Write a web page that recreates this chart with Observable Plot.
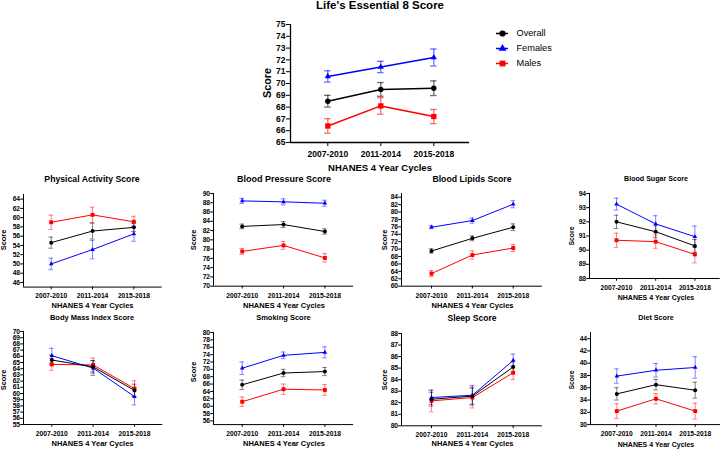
<!DOCTYPE html>
<html><head><meta charset="utf-8">
<script src="https://cdn.jsdelivr.net/npm/d3@7"></script>
<script src="https://cdn.jsdelivr.net/npm/@observablehq/plot@0.6"></script>
<style>
html,body{margin:0;padding:0;background:#fff;}
#chart{position:relative;width:722px;height:449px;overflow:hidden;font-family:"Liberation Sans",Arial,sans-serif;background:#fff;}
.lbl{position:absolute;white-space:nowrap;font-weight:bold;color:#000;transform:translate(-50%,-50%);line-height:1;}
.rot{transform:translate(-50%,-50%) rotate(-90deg);}
#chart svg{position:absolute;overflow:visible;}
</style></head><body><div id="chart"></div>
<script>
// ---- categories / labels ----
const cycles = ["2007-2010", "2011-2014", "2015-2018"];
const groups = ["Overall", "Females", "Males"];
const colors = ["#000000", "#0000ff", "#ff0000"];
const symbols = ["circle", "triangle", "square"];
const xAxisTitle = "NHANES 4 Year Cycles";
const yAxisTitle = "Score";

// ---- data: rows = Overall, Females, Males; cols = cycles ----
const le8Mean = [[68.5, 69.5, 69.6], [70.6, 71.4, 72.2], [66.4, 68.1, 67.2]];
const le8Err  = [[0.5, 0.58, 0.62], [0.48, 0.48, 0.72], [0.62, 0.7, 0.6]];

const paMean = [[54.6, 57.1, 57.9], [50.0, 53.1, 56.5], [59.0, 60.6, 59.1]];
const paErr  = [[1.2, 1.7, 0.9], [1.25, 2.0, 1.6], [1.55, 1.65, 1.2]];

const bpMean = [[82.9, 83.3, 81.8], [88.4, 88.2, 87.9], [77.5, 78.8, 76.1]];
const bpErr  = [[0.5, 0.65, 0.58], [0.55, 0.65, 0.65], [0.65, 0.85, 0.9]];

const lipMean = [[69.5, 72.9, 75.9], [75.9, 77.7, 82.1], [63.4, 68.4, 70.3]];
const lipErr  = [[0.6, 0.65, 0.9], [0.4, 0.7, 0.95], [0.8, 1.1, 0.95]];

const sugMean = [[92.0, 91.3, 90.3], [93.25, 91.85, 90.95], [90.7, 90.6, 89.7]];
const sugErr  = [[0.47, 0.42, 0.45], [0.42, 0.58, 0.75], [0.5, 0.47, 0.6]];

const bmiMean = [[65.4, 64.3, 60.5], [66.1, 64.1, 59.5], [64.7, 64.6, 60.8]];
const bmiErr  = [[0.8, 1.0, 1.0], [1.2, 1.2, 1.35], [0.95, 1.1, 1.25]];

const smkMean = [[65.8, 69.0, 69.4], [70.3, 73.8, 74.6], [61.2, 64.6, 64.4]];
const smkErr  = [[1.3, 1.0, 1.1], [1.7, 0.9, 1.5], [1.3, 1.4, 1.45]];

const slpMean = [[82.3, 82.57, 85.1], [82.45, 82.65, 85.66], [82.16, 82.45, 84.6]];
const slpErr  = [[0.6, 0.7, 0.45], [0.6, 0.85, 0.55], [0.95, 0.9, 0.6]];

const dietMean = [[35.0, 36.5, 35.6], [37.9, 38.85, 39.3], [32.2, 34.2, 32.2]];
const dietErr  = [[1.0, 0.85, 1.3], [1.17, 1.1, 1.75], [1.2, 0.85, 1.3]];

// ---- layout ----
const big = {lw: 1.5, aw: 1.3, ts: 4, cap: 3.3, r: [2.7, 2.3, 3.0], fs: 8.5, xtp: 4.6, ytp: 1};
const small = {lw: 1.0, aw: 1.0, ts: 2.8, cap: 2.3, r: [2.0, 1.7, 2.2], fs: 6.7, xtp: 3.8, ytp: 0.6};

const panels = [
  {title: "Life's Essential 8 Score", mean: le8Mean, err: le8Err, st: big,
   left: 290, right: 469, top: 24.3, bottom: 142.3, x0: 327.3, x2: 433.3, ydom: [65, 75], ystep: 1,
   t: [380, 5.5, 11.5], s: [267, 83, 10.8], n: [380, 168, 9.5]},
  {title: "Physical Activity Score", mean: paMean, err: paErr, st: small,
   left: 23.3, right: 162, top: 193.7, bottom: 286.3, x0: 51, x2: 133.7, ydom: [45, 65], ystep: 2, yfirst: 46,
   t: [92, 179, 8.7], s: [4, 240, 7.4], n: [92.5, 306, 7.5]},
  {title: "Blood Pressure Score", mean: bpMean, err: bpErr, st: small,
   left: 213.3, right: 353.4, top: 193.3, bottom: 286, x0: 242, x2: 324.7, ydom: [70, 90], ystep: 2,
   t: [284, 179, 9.0], s: [194, 240, 7.4], n: [284, 306, 7.5]},
  {title: "Blood Lipids Score", mean: lipMean, err: lipErr, st: small,
   left: 401, right: 542, top: 193.3, bottom: 286, x0: 431, x2: 512.7, ydom: [60, 85], ystep: 2, ylast: 84,
   t: [472, 179, 8.7], s: [385, 240, 7.4], n: [472.5, 306, 7.5]},
  {title: "Blood Sugar Score", mean: sugMean, err: sugErr, st: small,
   left: 589.3, right: 720, top: 192.7, bottom: 277.7, x0: 616.3, x2: 694.7, ydom: [88, 94], ystep: 1,
   t: [656, 180, 7.1], s: [572, 235.5, 6.8], n: [656, 297, 7.0]},
  {title: "Body Mass Index Score", mean: bmiMean, err: bmiErr, st: small,
   left: 22.7, right: 162, top: 331, bottom: 424, x0: 51, x2: 133.7, ydom: [55, 70], ystep: 1,
   t: [92, 317.7, 7.5], s: [4, 380, 7.4], n: [92.5, 444.3, 7.5]},
  {title: "Smoking Score", mean: smkMean, err: smkErr, st: small,
   left: 213.3, right: 353.4, top: 332.3, bottom: 424.4, x0: 242, x2: 324.7, ydom: [55, 80], ystep: 2, yfirst: 56,
   t: [283.5, 318, 7.5], s: [194, 372, 7.4], n: [284, 444.3, 7.5]},
  {title: "Sleep Score", mean: slpMean, err: slpErr, st: small,
   left: 401, right: 542, top: 332.7, bottom: 425, x0: 431, x2: 512.7, ydom: [80, 88], ystep: 1,
   t: [472, 318, 8.6], s: [385, 380, 7.4], n: [472.5, 444.3, 7.5]},
  {title: "Diet Score", mean: dietMean, err: dietErr, st: small,
   left: 590, right: 720, top: 332.2, bottom: 424.3, x0: 616.3, x2: 694.7, ydom: [30, 45], ystep: 2, ylast: 44,
   t: [656, 317.7, 7.2], s: [572, 380, 6.8], n: [656, 444.3, 7.0]}
];

const chart = document.getElementById("chart");
const FONT = "Liberation Sans, Arial, sans-serif";

function addLabel(text, pos, rotate) {
  const d = document.createElement("div");
  d.className = "lbl" + (rotate ? " rot" : "");
  d.textContent = text;
  d.style.left = pos[0] + "px";
  d.style.top = pos[1] + "px";
  d.style.fontSize = pos[2] + "px";
  chart.appendChild(d);
}

function build(p) {
  const st = p.st;
  const rows = [];
  groups.forEach((g, gi) => cycles.forEach((c, ci) =>
    rows.push({g, x: ci, y: p.mean[gi][ci], e: p.err[gi][ci]})));
  const order = ["Males", "Females", "Overall"];
  rows.sort((a, b) => order.indexOf(a.g) - order.indexOf(b.g));
  const step = (p.x2 - p.x0) / 2;
  const xdom = [(p.left - p.x0) / step, 2 + (p.right - p.x2) / step];
  const capd = st.cap / step;
  const ml = 30, mr = 4, mt = 4, mb = 20;
  const W = p.right - p.left, H = p.bottom - p.top;
  const yfirst = p.yfirst ?? p.ydom[0];
  const ylast = p.ylast ?? p.ydom[1];
  const yticks = d3.range(yfirst, ylast + 1e-9, p.ystep);
  const errStyle = {stroke: "g", strokeWidth: st.lw * 0.9, strokeOpacity: 0.55};
  const svg = Plot.plot({
    width: W + ml + mr, height: H + mt + mb,
    marginLeft: ml, marginRight: mr, marginTop: mt, marginBottom: mb,
    style: {fontFamily: FONT, fontSize: st.fs + "px", fontWeight: "bold", color: "#000", background: "transparent", overflow: "visible"},
    x: {domain: xdom, ticks: [0, 1, 2], tickFormat: i => cycles[i], tickSize: st.ts, tickPadding: st.xtp, label: null},
    y: {domain: p.ydom, ticks: yticks, tickSize: st.ts, tickPadding: st.ytp, label: null, tickFormat: d3.format("d")},
    color: {domain: groups, range: colors},
    symbol: {domain: groups, range: symbols},
    marks: [
      Plot.ruleX(rows, {x: "x", y1: d => d.y - d.e, y2: d => d.y + d.e, ...errStyle}),
      Plot.ruleY(rows, {y: d => d.y - d.e, x1: d => d.x - capd, x2: d => d.x + capd, ...errStyle}),
      Plot.ruleY(rows, {y: d => d.y + d.e, x1: d => d.x - capd, x2: d => d.x + capd, ...errStyle}),
      ...order.map(g => Plot.line(rows.filter(d => d.g === g), {x: "x", y: "y", stroke: "g", strokeWidth: st.lw})),
      ...order.map(g => Plot.dot(rows.filter(d => d.g === g), {x: "x", y: "y", fill: "g", symbol: "g", r: st.r[groups.indexOf(g)], stroke: "none"})),
      Plot.ruleX([xdom[0]], {strokeWidth: st.aw}),
      Plot.ruleY([p.ydom[0]], {strokeWidth: st.aw})
    ]
  });
  svg.style.left = (p.left - ml) + "px";
  svg.style.top = (p.top - mt) + "px";
  chart.appendChild(svg);
  addLabel(p.title, p.t, false);
  addLabel(yAxisTitle, p.s, true);
  addLabel(xAxisTitle, p.n, false);
}

panels.forEach(build);

// ---- legend (top panel) ----
const leg = Plot.plot({
  width: 90, height: 47, marginLeft: 0, marginRight: 0, marginTop: 8, marginBottom: 8,
  style: {fontFamily: FONT, fontSize: "9.2px", color: "#000", background: "transparent", overflow: "visible"},
  x: {domain: [0, 90], axis: null},
  y: {type: "point", domain: groups, padding: 0, axis: null},
  color: {domain: groups, range: colors},
  symbol: {domain: groups, range: symbols},
  marks: [
    Plot.ruleY(groups, {y: d => d, x1: 6, x2: 18, stroke: d => d, strokeWidth: 1.5}),
    Plot.dot(groups, {x: 12, y: d => d, fill: d => d, symbol: d => d, r: d => big.r[groups.indexOf(d)], stroke: "none"}),
    Plot.text(groups, {x: 26, y: d => d, text: d => d, textAnchor: "start", fontSize: 9.2})
  ]
});
leg.style.left = "490px";
leg.style.top = "24.3px";
chart.appendChild(leg);
</script>
</body></html>
